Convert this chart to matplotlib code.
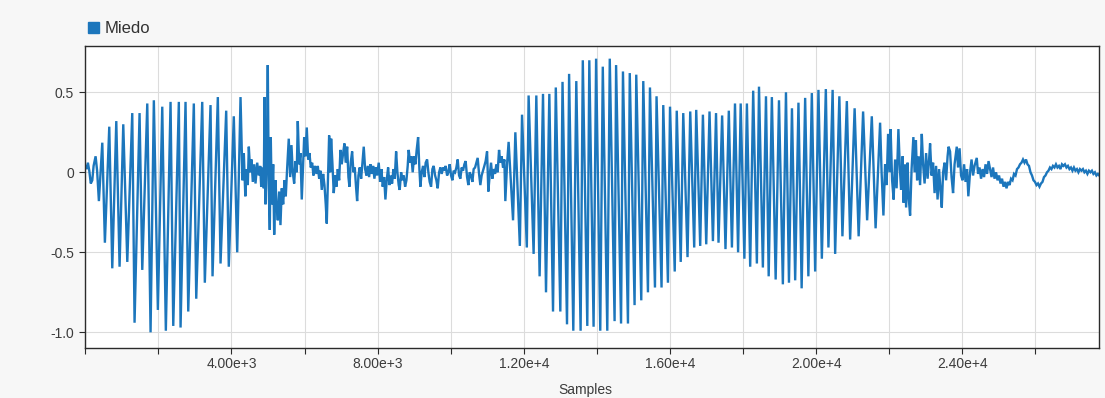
import numpy as np
import matplotlib
matplotlib.use('Agg')
import matplotlib.pyplot as plt
from matplotlib.patches import Patch

plt.rcParams['font.family'] = 'Liberation Sans'

# turning points of the recording (sample index, amplitude), split by section
onset_samples = [0, 36, 71, 109, 150, 191, 227, 282, 323, 372]
onset_values = [0.04, 0.02, 0.06, 0.01, -0.07, -0.05, 0.04, 0.10, 0.01, -0.18]

voiced1_samples = [465, 536, 656, 738, 848, 938, 1039, 1149, 1285, 1348,
                   1485, 1559, 1696, 1786, 1876, 1986, 2106, 2204, 2333, 2407,
                   2560, 2607, 2743, 2817, 2970, 3036, 3200, 3271, 3427, 3482,
                   3627, 3701, 3856, 3927, 4064, 4157, 4248]
voiced1_values = [0.185, -0.44, 0.285, -0.60, 0.32, -0.59, 0.30, -0.56, 0.37, -0.94,
                  0.37, -0.61, 0.43, -1.00, 0.45, -0.86, 0.41, -0.99, 0.44, -0.96,
                  0.44, -0.97, 0.44, -0.87, 0.43, -0.79, 0.44, -0.69, 0.42, -0.65,
                  0.47, -0.57, 0.385, -0.59, 0.35, -0.50, 0.47]

pause_samples = [4302, 4338, 4379, 4417, 4447, 4475, 4513, 4548, 4584, 4622,
                 4658, 4704, 4748, 4786, 4814, 4849, 4885, 4904, 4931, 4967,
                 4994, 5021, 5049, 5076, 5104, 5142, 5169, 5205, 5232, 5268,
                 5306, 5341, 5377, 5415, 5451, 5486, 5525, 5568, 5607, 5642,
                 5678, 5716, 5752, 5787, 5815, 5853, 5888, 5924, 5962, 5990,
                 6025, 6061, 6099, 6135, 6170, 6208, 6244, 6280, 6326, 6362,
                 6400, 6436, 6471, 6509, 6545, 6580, 6608, 6635, 6673, 6701,
                 6728, 6764, 6799, 6838, 6873, 6909, 6947, 6983, 7018, 7056,
                 7092, 7127, 7166, 7201, 7229, 7264, 7302, 7338, 7374, 7412,
                 7439, 7475, 7510, 7549, 7584, 7620, 7658, 7694, 7729, 7767,
                 7803, 7839, 7877, 7912, 7948, 7986, 8030, 8068, 8104, 8139,
                 8178, 8213, 8249, 8287, 8323, 8358, 8396, 8432, 8468, 8506,
                 8541, 8577, 8604, 8643, 8678, 8714, 8752, 8788, 8823, 8850,
                 8889, 8924, 8960, 8998, 9034, 9069, 9108, 9143, 9170, 9206,
                 9244, 9280, 9315, 9354, 9389, 9425, 9463, 9499, 9534, 9573,
                 9608, 9644, 9682, 9718, 9753, 9791, 9827, 9862, 9901, 9936,
                 9972, 10010, 10046, 10081, 10120, 10155, 10191, 10229, 10264, 10300,
                 10338, 10374, 10409, 10448, 10483, 10519, 10557, 10593, 10628, 10667,
                 10702, 10738, 10776, 10811, 10847, 10885, 10921, 10956, 10995, 11030,
                 11066, 11104, 11140, 11175, 11214, 11249, 11285, 11323, 11358, 11394,
                 11432, 11468, 11495, 11542, 11585]
pause_values = [-0.05, 0.12, -0.15, 0.02, -0.08, 0.16, 0.00, 0.08, -0.06, 0.05,
                -0.07, 0.06, -0.02, 0.04, -0.09, 0.03, -0.10, 0.47, -0.20, 0.10,
                0.67, -0.10, -0.36, 0.22, -0.20, 0.05, -0.39, -0.05, -0.20, -0.30,
                -0.12, -0.33, -0.10, -0.20, -0.05, -0.15, 0.03, 0.21, -0.03, 0.17,
                0.00, -0.07, 0.07, 0.00, 0.32, 0.05, 0.12, -0.17, 0.05, 0.22,
                0.10, 0.28, 0.08, 0.12, 0.03, 0.06, -0.02, 0.04, -0.01, 0.04,
                -0.04, 0.01, -0.11, -0.01, -0.08, -0.20, -0.32, -0.10, 0.23, 0.00,
                0.21, 0.05, -0.13, -0.02, -0.09, 0.02, -0.05, 0.14, 0.05, 0.12,
                0.18, 0.06, 0.16, -0.03, -0.09, 0.06, 0.13, 0.00, 0.03, -0.10,
                -0.18, -0.02, 0.03, -0.04, 0.06, 0.16, 0.02, -0.02, 0.04, -0.03,
                0.05, -0.01, 0.04, -0.04, 0.03, -0.02, 0.06, -0.06, 0.02, -0.09,
                -0.03, -0.17, -0.05, 0.03, -0.08, -0.02, -0.07, 0.02, -0.04, 0.13,
                0.00, -0.08, -0.11, 0.00, -0.05, -0.02, -0.09, -0.05, 0.04, 0.14,
                0.06, 0.10, 0.00, 0.10, 0.05, 0.14, 0.22, 0.02, -0.09, 0.00,
                0.04, -0.03, 0.06, 0.08, 0.00, -0.06, -0.09, 0.02, 0.04, -0.02,
                -0.05, -0.10, 0.00, 0.03, -0.01, 0.03, 0.01, 0.04, -0.02, 0.00,
                0.05, -0.02, -0.05, 0.01, 0.00, 0.03, 0.08, -0.02, -0.04, 0.03,
                0.01, 0.05, 0.07, -0.03, -0.08, 0.00, -0.02, -0.06, 0.02, 0.03,
                0.06, 0.09, -0.01, -0.08, -0.02, 0.01, 0.04, 0.07, 0.13, -0.12,
                -0.02, 0.06, -0.04, 0.02, -0.01, 0.05, 0.00, 0.14, 0.06, 0.10,
                0.03, 0.08, -0.18, 0.05, 0.19]

voiced2_samples = [11706, 11769, 11892, 11952, 12083, 12132, 12269, 12343, 12433, 12526,
                   12608, 12699, 12800, 12876, 13000, 13060, 13183, 13240, 13355, 13437,
                   13555, 13615, 13738, 13793, 13910, 13979, 14093, 14162, 14285, 14353,
                   14485, 14526, 14662, 14714, 14851, 14900, 15032, 15078, 15215, 15270,
                   15398, 15453, 15590, 15633, 15770, 15817, 15945, 16002, 16131, 16186,
                   16295, 16364, 16481, 16555, 16664, 16719, 16828, 16902, 16993, 17083,
                   17176, 17261, 17329, 17428, 17520, 17611, 17696, 17780, 17865, 17936,
                   18037, 18106, 18196, 18278, 18379, 18437, 18543, 18628, 18702, 18789,
                   18893, 18984, 19090, 19175, 19257, 19339, 19427, 19517, 19604, 19700,
                   19788, 19883, 19974, 20064, 20157, 20266, 20337, 20452, 20521, 20636,
                   20720, 20841, 20931, 21054, 21164, 21286, 21396, 21524, 21628, 21751]
voiced2_values = [-0.30, 0.25, -0.46, 0.36, -0.47, 0.48, -0.51, 0.48, -0.65, 0.49,
                  -0.75, 0.49, -0.87, 0.53, -0.87, 0.565, -0.95, 0.615, -0.99, 0.57,
                  -0.99, 0.70, -0.96, 0.70, -0.965, 0.71, -0.99, 0.66, -0.99, 0.71,
                  -0.93, 0.67, -0.945, 0.63, -0.945, 0.62, -0.83, 0.61, -0.80, 0.57,
                  -0.75, 0.53, -0.72, 0.475, -0.72, 0.42, -0.69, 0.41, -0.62, 0.385,
                  -0.56, 0.37, -0.53, 0.38, -0.47, 0.39, -0.46, 0.36, -0.45, 0.38,
                  -0.43, 0.37, -0.44, 0.355, -0.48, 0.385, -0.47, 0.43, -0.50, 0.43,
                  -0.54, 0.43, -0.59, 0.51, -0.57, 0.535, -0.595, 0.475, -0.65, 0.47,
                  -0.67, 0.45, -0.70, 0.50, -0.69, 0.40, -0.675, 0.435, -0.725, 0.465,
                  -0.65, 0.495, -0.62, 0.515, -0.54, 0.52, -0.47, 0.515, -0.51, 0.475,
                  -0.40, 0.445, -0.42, 0.40, -0.40, 0.38, -0.30, 0.35, -0.35, 0.31]

decay_samples = [21792, 21842, 21888, 21929, 21970, 22011, 22039, 22080, 22121, 22162,
                 22203, 22252, 22293, 22326, 22367, 22394, 22435, 22463, 22504, 22531,
                 22572, 22613, 22662, 22695, 22731, 22764, 22804, 22845, 22892, 22928,
                 22969, 23010, 23051, 23092, 23119, 23160, 23201, 23242, 23283, 23324,
                 23365, 23406, 23439, 23475, 23516, 23557, 23598, 23625, 23666, 23707,
                 23748, 23789, 23849, 23885, 23926, 23967, 24008, 24049, 24090, 24131,
                 24166, 24213, 24254, 24295, 24336, 24396, 24432, 24473, 24514, 24555,
                 24596, 24637, 24678, 24719, 24760, 24801, 24842, 24883, 24924, 24965,
                 25006, 25047, 25088, 25129, 25170, 25211, 25252, 25293, 25334, 25375,
                 25416, 25457, 25498, 25539, 25580, 25621, 25662, 25703, 25744, 25785,
                 25826, 25867, 25908, 25949, 25990, 26031, 26072, 26113, 26154, 26195,
                 26236, 26277, 26318, 26359, 26400, 26441, 26482, 26523, 26564, 26605,
                 26646, 26687, 26728, 26769, 26810, 26851, 26892, 26933, 26974, 27015,
                 27056, 27097, 27138, 27179, 27220, 27261, 27302, 27343, 27384, 27425,
                 27466, 27507, 27548, 27589, 27630, 27671, 27712, 27748]
decay_values = [0.00, -0.27, 0.05, -0.08, 0.24, 0.00, 0.27, -0.05, -0.17, 0.08,
                -0.10, 0.27, 0.02, -0.11, 0.10, -0.19, 0.05, -0.22, 0.06, -0.15,
                -0.27, 0.02, 0.22, 0.00, 0.20, -0.05, 0.10, -0.08, 0.24, 0.05,
                -0.07, 0.12, -0.04, 0.08, 0.18, -0.02, 0.06, -0.13, 0.04, -0.17,
                0.02, -0.12, -0.22, 0.00, 0.06, -0.05, 0.10, 0.16, 0.13, -0.03,
                -0.13, 0.05, 0.16, 0.03, 0.15, -0.02, -0.05, 0.05, -0.06, 0.02,
                -0.15, 0.00, 0.08, -0.02, 0.04, 0.09, -0.01, 0.03, -0.04, 0.02,
                -0.03, 0.05, -0.01, 0.07, 0.02, -0.03, 0.03, -0.04, 0.00, -0.05,
                -0.02, -0.07, -0.04, -0.09, -0.06, -0.10, -0.06, -0.08, -0.04, -0.05,
                -0.01, -0.02, 0.02, 0.03, 0.05, 0.06, 0.08, 0.06, 0.08, 0.05,
                0.04, 0.00, -0.02, -0.05, -0.06, -0.08, -0.07, -0.09, -0.07, -0.06,
                -0.03, -0.02, 0.00, 0.01, 0.03, 0.02, 0.04, 0.03, 0.05, 0.03,
                0.04, 0.02, 0.05, 0.04, 0.05, 0.03, 0.04, 0.02, 0.03, 0.01,
                0.03, 0.01, 0.02, 0.00, 0.02, 0.01, 0.02, 0.00, 0.01, -0.01,
                0.01, 0.00, 0.01, -0.01, 0.00, -0.02, -0.01, -0.02]

series_name = 'Miedo'
line_color = '#1c76bc'

samples = np.concatenate([onset_samples, voiced1_samples, pause_samples,
                          voiced2_samples, decay_samples])
amplitude = np.concatenate([onset_values, voiced1_values, pause_values,
                            voiced2_values, decay_values])


def sci_label(v):
    if v == 0 or v % 4000:
        return ''
    exp = int(np.floor(np.log10(v)))
    return f'{v / 10 ** exp:.2f}e+{exp}'


fig = plt.figure(figsize=(11.05, 3.98), dpi=100, facecolor='#f7f7f7')
ax = fig.add_axes([85.3 / 1105, 50.3 / 398, 1014 / 1105, 302 / 398])
ax.set_facecolor('white')

ax.plot(samples, amplitude, color=line_color, linewidth=1.7,
        solid_joinstyle='miter')

ax.set_xlim(0, 27750)
ax.set_ylim(-1.096, 0.791)

xt = np.arange(0, 27750, 2000)
ax.set_xticks(xt)
ax.set_xticklabels([sci_label(v) for v in xt])
ax.set_yticks([-1.0, -0.5, 0, 0.5])
ax.set_yticklabels(['-1.0', '-0.5', '0', '0.5'])

ax.grid(True, color='#dcdcdc', linewidth=0.8)
ax.set_axisbelow(True)
for s in ax.spines.values():
    s.set_color('#2b2b2b')
    s.set_linewidth(1.0)

ax.tick_params(axis='both', direction='out', length=4, width=0.8,
               color='#2b2b2b', labelcolor='#3c3c3c', labelsize=10)
ax.tick_params(axis='x', pad=2.5)
ax.tick_params(axis='y', pad=4)

# keep the axis title just inside the bottom edge
ax.set_xlabel('Samples', fontsize=10, color='#3c3c3c')
ax.xaxis.set_label_coords(0.4935, -0.118)

ax.legend(handles=[Patch(color=line_color)], labels=[series_name],
          loc='center left', bbox_to_anchor=(88.3 / 1105, 369.5 / 398),
          bbox_transform=fig.transFigure, frameon=False, fontsize=12,
          handlelength=0.65, handleheight=0.65, handletextpad=0.3,
          borderpad=0, borderaxespad=0, labelcolor='#333333')

plt.savefig('out.png', dpi=100, facecolor=fig.get_facecolor())
